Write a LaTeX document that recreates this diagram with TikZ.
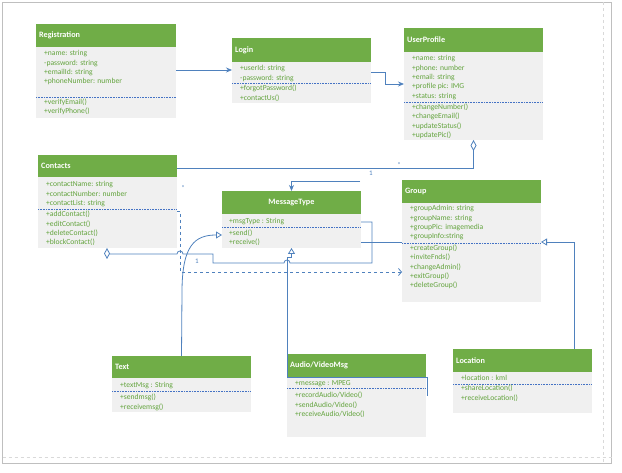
\documentclass[tikz,border=0pt]{standalone}
\usepackage{fontspec}
\setmainfont{Carlito}
\usetikzlibrary{arrows.meta}
\definecolor{hdr}{HTML}{70AD47}
\definecolor{bodyg}{HTML}{F0F0F0}
\definecolor{txtg}{HTML}{62A33C}
\definecolor{conn}{HTML}{4F81BD}
\definecolor{divl}{HTML}{4472C4}
\tikzset{
  classbody/.style={fill=bodyg, inner sep=0pt, outer sep=0pt, anchor=north west},
  classhead/.style={fill=hdr, inner sep=0pt, outer sep=0pt, anchor=north west},
  titletext/.style={text=white, font=\fontsize{8.2}{9}\selectfont\bfseries, inner sep=0pt},
  rowtext/.style={text=txtg, font=\fontsize{7.6}{8}\selectfont, inner sep=0pt, anchor=base west},
  divider/.style={divl, densely dotted, line width=0.6pt},
  conn/.style={draw=conn, line width=0.8pt},
  opentri/.style={-{Triangle[open, length=6pt, width=7pt, fill=white]}},
  filledarr/.style={-{Stealth[length=6pt, width=5pt]}},
  openv/.style={-{Straight Barb[length=3pt, width=7pt]}},
  diam/.style={{Diamond[open, length=11pt, width=6pt, fill=white]}-},
  lbl/.style={text=conn, font=\fontsize{7}{8}\selectfont, inner sep=0pt},
}
\newcommand\umlclass[7]{% name, x1, x2, top, header bottom, divider, bottom
  \pgfmathsetmacro\cW{#3-#2}\pgfmathsetmacro\cH{#7-#4}\pgfmathsetmacro\cHH{#5-#4}
  \node[classbody, minimum width=\cW pt, minimum height=\cH pt] (#1) at (#2,#4) {};
  \node[classhead, minimum width=\cW pt, minimum height=\cHH pt] (#1-h) at (#2,#4) {};
  \draw[divider] (#2,#6) -- (#3,#6);
}
\newcommand\umlrows[4]{% prefix, x, first baseline, list
  \foreach \t [count=\i] in {#4} {\node[rowtext] (#1-\i) at (#2,{#3+(\i-1)*9.3}) {\t};}
}
\begin{document}
\begin{tikzpicture}[x=1pt, y={(0pt,-1pt)}]
\useasboundingbox (0,0) rectangle (622,473);
\draw[black!25] (2.5,2.5) rectangle (611.5,463.5);
\draw[black!15, dashed] (603.5,2.5) -- (603.5,463.5);
\draw[black!15, dashed] (2.5,457.5) -- (611.5,457.5);

% classes
\umlclass{reg}{36}{176}{24}{47}{97}{118}
\node[titletext, anchor=west] (reg-t) at ([xshift=3pt]reg-h.west) {Registration};
\umlrows{reg-a}{44}{56}{+name: string, -password: string, +emailId: string, +phoneNumber: number}
\umlrows{reg-m}{44}{104.5}{+verifyEmail(), +verifyPhone()}

\umlclass{login}{232}{371}{38}{62}{83}{103}
\node[titletext, anchor=west] (login-t) at ([xshift=3pt]login-h.west) {Login};
\umlrows{login-a}{240}{71}{+userId: string, -password: string}
\umlrows{login-m}{240}{91}{+forgotPassword(), +contactUs()}

\umlclass{up}{404}{543}{28}{52}{102}{140}
\node[titletext, anchor=west] (up-t) at ([xshift=3pt]up-h.west) {UserProfile};
\umlrows{up-a}{412}{61}{+name: string, +phone: number, +email: string, +profile pic: IMG, +status: string}
\umlrows{up-m}{412}{109.5}{+changeNumber(), +changeEmail(), +updateStatus(), +updatePic()}

\umlclass{contacts}{38}{177}{155}{177}{209}{248}
\node[titletext, anchor=west] (contacts-t) at ([xshift=3pt]contacts-h.west) {Contacts};
\umlrows{contacts-a}{46}{187}{+contactName: string, +contactNumber: number, +contactList: string}
\umlrows{contacts-m}{46}{217}{+addContact(), +editContact(), +deleteContact(), +blockContact()}

\umlclass{msg}{222}{361}{191}{214}{227}{248}
\node[titletext] (msg-t) at (msg-h.center) {MessageType};
\umlrows{msg-a}{229}{224}{+msgType : String}
\umlrows{msg-m}{229}{235.5}{+send(), +receive()}

\umlclass{group}{402}{541}{180}{203}{243}{302}
\node[titletext, anchor=west] (group-t) at ([xshift=3pt]group-h.west) {Group};
\umlrows{group-a}{410}{211}{+groupAdmin: string, +groupName: string, +groupPic: imagemedia, +groupInfo:string}
\umlrows{group-m}{410}{250.5}{+createGroup(), +inviteFnds(), +changeAdmin(), +exitGroup(), +deleteGroup()}

\umlclass{text}{112}{251}{356}{378}{391}{412}
\node[titletext, anchor=west] (text-t) at ([xshift=3pt]text-h.west) {Text};
\umlrows{text-a}{120}{388}{+textMsg : String}
\umlrows{text-m}{120}{400}{+sendmsg(), +receivemsg()}

\umlclass{audio}{287}{426}{354}{377}{388}{437}
\node[titletext, anchor=west] (audio-t) at ([xshift=3pt]audio-h.west) {Audio/VideoMsg};
\umlrows{audio-a}{295}{386}{+message : MPEG}
\umlrows{audio-m}{295}{398}{+recordAudio/Video(), +sendAudio/Video(), +receiveAudio/Video()}

\umlclass{loc}{453}{592}{349}{372}{384}{413}
\node[titletext, anchor=west] (loc-t) at ([xshift=3pt]loc-h.west) {Location};
\umlrows{loc-a}{461}{381}{+location : kml}
\umlrows{loc-m}{461}{391}{+shareLocation(), +receiveLocation()}

% connectors
\draw[conn, filledarr] ([yshift=-46pt]reg.north east) -- ([yshift=-32pt]login.north west);
\draw[conn, filledarr] ([yshift=-34pt]login.north east) -- ++(14,0) |- ([yshift=-56pt]up.north west);
\draw[conn, diam] (up.south) -- ++(0,28) -- ([yshift=-13pt]contacts.north east);
\node[lbl] (l1) at (371,173) {1};
\node[lbl] (l2) at (399,165) {*};
\node[lbl] (l3) at (183,188) {*};

\coordinate (mfree) at (360,181);
\draw[conn, filledarr] (mfree) -| (msg.north);

\draw[conn, dashed, openv] ([yshift=-56pt]contacts.north east) -- ++(3,0) |- ([yshift=-92pt]group.north west);

\draw[conn] ([yshift=-51pt]msg.north east) -- ([yshift=-62pt]group.north west);
\draw[conn, opentri] ([xshift=51.5pt]loc.north) |- ([yshift=-62pt]group.north east);

\coordinate (afree) at (427,396);
\draw[conn, opentri] (afree) -- (427,377) -- (287,377) -- (287,257) -- (291.5,257) -- (msg.south);

\draw[conn, opentri] (text.north) -- (182,292) .. controls (182,245) and (195,235) .. ([yshift=-44pt]msg.north west);

\draw[conn, diam] ([xshift=-0.5pt]contacts.south) -- (107,254) -- (177,254) arc[start angle=180, end angle=0, radius=3pt] -- (213,254) -- (213,263) -- (284,263) arc[start angle=180, end angle=0, radius=3pt] -- (372,263) -- (372,222) -- ([yshift=-31pt]msg.north east);
\node[lbl] (l4) at (197,261) {1};
\end{tikzpicture}
\end{document}
